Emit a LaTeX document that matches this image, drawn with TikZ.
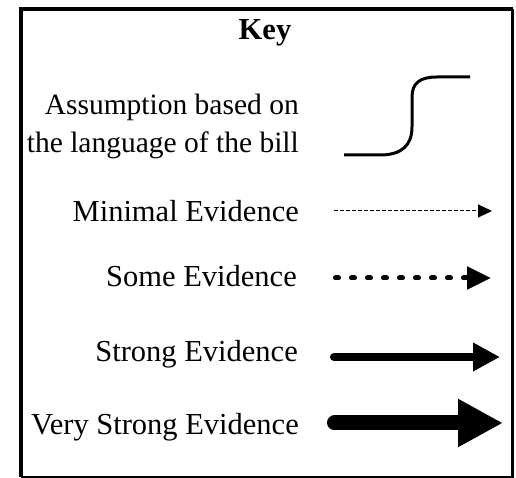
\documentclass[tikz,border=0pt]{standalone}
\usepackage{fontspec}
\setmainfont{Liberation Serif}
\usetikzlibrary{arrows.meta}

\begin{document}
\begin{tikzpicture}[x=1pt,y=1pt,line cap=butt,
  key text/.style={anchor=base east,inner sep=0pt,font=\fontsize{30.5}{38}\selectfont},
  frame thick/.style={line width=4pt},
  frame thin/.style={line width=2.5pt}]
\useasboundingbox (0,0) rectangle (516,478);
% frame
  \coordinate (tl) at (20.5,468.5);
  \coordinate (br) at (512.5,1);
  \draw[frame thick] (br |- tl) -- (tl) -- (tl |- br);
  \draw[frame thin] (br |- tl) -- (br) -- (tl |- br);
% nodes
  \node[inner sep=0pt,font=\fontsize{30.5}{38}\selectfont\bfseries] (key) at (265,445) {Key};
  \node[key text,align=right,font=\fontsize{29.5}{38}\selectfont] (assume) at (299,325) {Assumption based on\\the language of the bill};
  \node[key text] (minimal) at (299,256) {Minimal Evidence};
  \node[key text] (some) at (297,191) {Some Evidence};
  \node[key text] (strong) at (298,116) {Strong Evidence};
  \node[key text] (vstrong) at (299,43) {Very Strong Evidence};
  \coordinate (s0) at (344,323);
  \coordinate (s1) at (470,401);
  \coordinate (m0) at (334,267);
  \coordinate (m1) at (492,267);
  \coordinate (o0) at (335.5,200);
  \coordinate (o1) at (491,200);
  \coordinate (g0) at (334,121);
  \coordinate (g1) at (500,121);
  \coordinate (v0) at (334.5,55);
  \coordinate (v1) at (503,55);
%edges
  \draw[line width=3pt] (s0) -- (380,323) .. controls (402,323) and (412,333) .. (412,351)
    -- (412,381) .. controls (412,395) and (420,401) .. (437,401) -- (s1);
  \draw[line width=1pt,dash pattern=on 4pt off 2pt,-{Triangle[length=14pt,width=13pt]}] (m0) -- (m1);
  \draw[line width=5pt,line cap=round,dash pattern=on 3pt off 13pt,-{Triangle[length=24pt,width=22pt]}] (o0) -- (o1);
  \draw[line width=8pt,line cap=round,-{Triangle[length=27pt,width=27pt]}] (g0) -- (g1);
  \draw[line width=15pt,line cap=round,-{Triangle[length=45pt,width=45pt]}] (v0) -- (v1);
\end{tikzpicture}
\end{document}
